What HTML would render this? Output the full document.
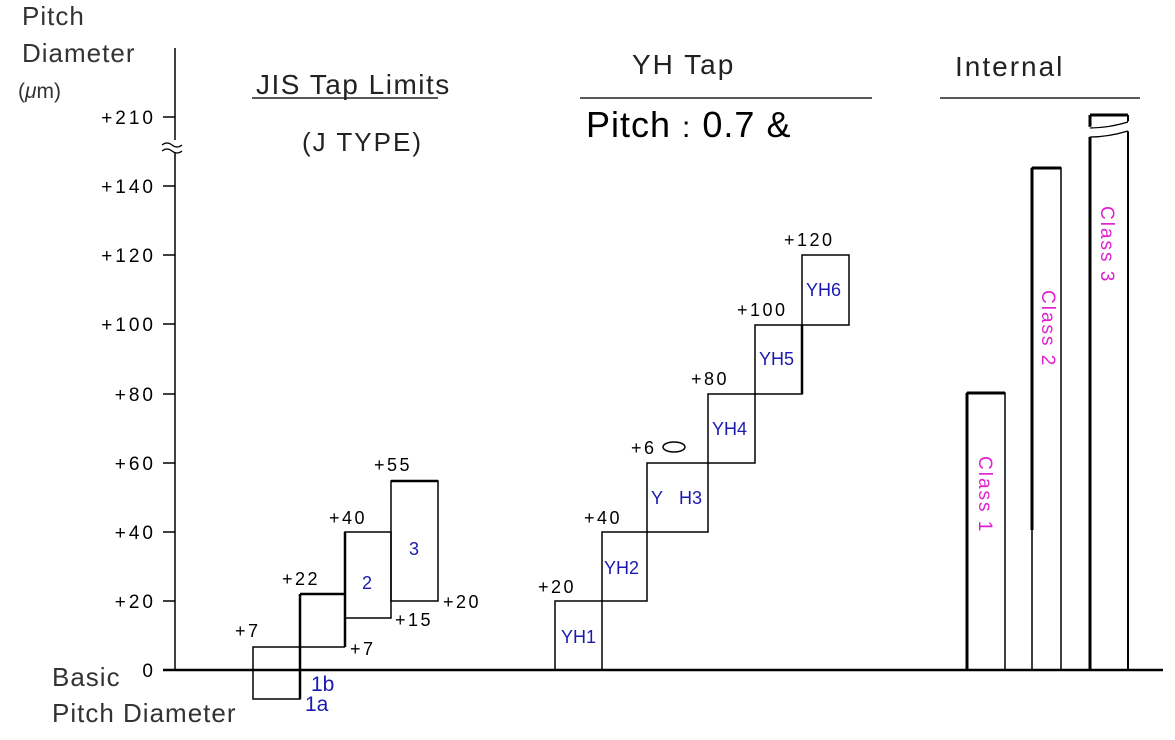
<!DOCTYPE html>
<html><head><meta charset="utf-8"><style>
html,body{margin:0;padding:0;background:#fff;}
svg{display:block;}
text{font-family:"Liberation Sans",sans-serif;}
</style></head><body>
<svg width="1175" height="740" viewBox="0 0 1175 740" xmlns="http://www.w3.org/2000/svg">
<g fill="#333" font-size="26" letter-spacing="1">
<text x="22" y="25">Pitch</text>
<text x="22" y="62">Diameter</text>
<text x="52" y="686">Basic</text>
<text x="52" y="722">Pitch Diameter</text>
</g>
<text x="18" y="98" font-size="21" fill="#333">(<tspan font-style="italic">μ</tspan>m)</text>
<line x1="175" y1="48" x2="175" y2="670" stroke="#000" stroke-width="1.5"/>
<line x1="163" y1="670" x2="1163" y2="670" stroke="#000" stroke-width="2.5"/>
<rect x="168" y="140" width="14" height="12" fill="#fff"/>
<path d="M162 145 q5 -4 10 0 t10 0 M162 151 q5 -4 10 0 t10 0" stroke="#000" fill="none" stroke-width="1.2"/>
<g stroke="#000" stroke-width="1.5">
<line x1="163" y1="117" x2="175" y2="117"/>
<line x1="163" y1="186" x2="175" y2="186"/>
<line x1="163" y1="255" x2="175" y2="255"/>
<line x1="163" y1="324" x2="175" y2="324"/>
<line x1="163" y1="394" x2="175" y2="394"/>
<line x1="163" y1="463" x2="175" y2="463"/>
<line x1="163" y1="532" x2="175" y2="532"/>
<line x1="163" y1="601" x2="175" y2="601"/>
</g>
<g font-size="19" text-anchor="end" fill="#000" letter-spacing="3">
<text x="156" y="124">+210</text>
<text x="156" y="193">+140</text>
<text x="156" y="262">+120</text>
<text x="156" y="331">+100</text>
<text x="156" y="401">+80</text>
<text x="156" y="470">+60</text>
<text x="156" y="539">+40</text>
<text x="156" y="608">+20</text>
<text x="156" y="677">0</text>
</g>
<text x="256" y="94" font-size="28" fill="#222" letter-spacing="1.5">JIS Tap Limits</text>
<line x1="252" y1="98" x2="438" y2="98" stroke="#222" stroke-width="1.5"/>
<text x="302" y="151" font-size="26" fill="#222" letter-spacing="2">(J TYPE)</text>
<g fill="none" stroke="#000">
<rect x="253" y="647" width="47" height="52" stroke-width="1.5"/>
<line x1="300" y1="594" x2="300" y2="699" stroke-width="2.5"/>
<line x1="300" y1="594" x2="345" y2="594" stroke-width="2.5"/>
<line x1="300" y1="647" x2="345" y2="647" stroke-width="1.5"/>
<line x1="345" y1="532" x2="345" y2="647" stroke-width="2.5"/>
<rect x="345" y="532" width="46" height="86" stroke-width="1.5"/>
<rect x="391" y="481" width="47" height="120" stroke-width="1.5"/>
<line x1="391" y1="481" x2="438" y2="481" stroke-width="2.5"/>
</g>
<g font-size="18" fill="#000" letter-spacing="2.5">
<text x="235" y="637">+7</text>
<text x="282" y="585">+22</text>
<text x="329" y="524">+40</text>
<text x="374" y="471">+55</text>
<text x="350" y="655">+7</text>
<text x="395" y="626">+15</text>
<text x="443" y="608">+20</text>
</g>
<g fill="#1a1ab0">
<text x="362" y="589" font-size="18">2</text>
<text x="409" y="555" font-size="18">3</text>
<text x="311" y="691" font-size="21">1b</text>
<text x="305" y="711" font-size="21">1a</text>
</g>
<text x="632" y="74" font-size="28" fill="#222" letter-spacing="2">YH Tap</text>
<line x1="580" y1="98" x2="872" y2="98" stroke="#222" stroke-width="1.5"/>
<text x="586" y="137" font-size="36" fill="#000" letter-spacing="1">Pitch <tspan font-size="30">:</tspan> 0.7 &amp;</text>
<g fill="none" stroke="#000" stroke-width="1.5">
<rect x="555" y="601" width="47" height="69"/>
<rect x="602" y="532" width="45" height="69"/>
<rect x="647" y="463" width="61" height="69"/>
<rect x="708" y="394" width="47" height="69"/>
<rect x="755" y="325" width="47" height="69"/>
<rect x="802" y="255" width="47" height="70"/>
<line x1="802" y1="325" x2="802" y2="394" stroke-width="2.5"/>
<ellipse cx="674" cy="447" rx="11" ry="5"/>
</g>
<g font-size="18" fill="#000" letter-spacing="2.5">
<text x="538" y="593">+20</text>
<text x="584" y="524">+40</text>
<text x="631" y="454">+6</text>
<text x="691" y="385">+80</text>
<text x="737" y="316">+100</text>
<text x="784" y="246">+120</text>
</g>
<g font-size="18" fill="#1a1ab0">
<text x="561" y="643">YH1</text>
<text x="604" y="574">YH2</text>
<text x="651" y="504">Y</text><text x="679" y="504">H3</text>
<text x="712" y="435">YH4</text>
<text x="759" y="365">YH5</text>
<text x="806" y="296">YH6</text>
</g>
<text x="955" y="76" font-size="28" fill="#222" letter-spacing="2">Internal</text>
<line x1="940" y1="98" x2="1140" y2="98" stroke="#222" stroke-width="1.5"/>
<g fill="none" stroke="#000">
<polyline points="967,670 967,393 1005,393 1005,670" stroke-width="1.5"/>
<line x1="967" y1="393" x2="967" y2="670" stroke-width="3"/>
<line x1="967" y1="393" x2="1005" y2="393" stroke-width="3"/>
<polyline points="1032,670 1032,168 1061,168 1061,670" stroke-width="1.5"/>
<line x1="1032" y1="168" x2="1032" y2="530" stroke-width="3"/>
<line x1="1032" y1="168" x2="1061" y2="168" stroke-width="3"/>
<line x1="1090" y1="115" x2="1090" y2="670" stroke-width="3"/>
<line x1="1128" y1="115" x2="1128" y2="670" stroke-width="2"/>
<line x1="1090" y1="115" x2="1128" y2="115" stroke-width="3"/>
</g>
<path d="M1088 127 q20 -2 42 -6 v10 q-20 4 -42 6 z" fill="#fff"/>
<path d="M1090 128 q18 0 38 -6 M1090 137 q18 0 38 -6" stroke="#000" fill="none" stroke-width="1.2"/>
<g font-size="19" fill="#e020d0" letter-spacing="2">
<text transform="translate(979,456) rotate(90)">Class  1</text>
<text transform="translate(1042,290) rotate(90)">Class  2</text>
<text transform="translate(1101,206) rotate(90)">Class  3</text>
</g>
</svg>
</body></html>
